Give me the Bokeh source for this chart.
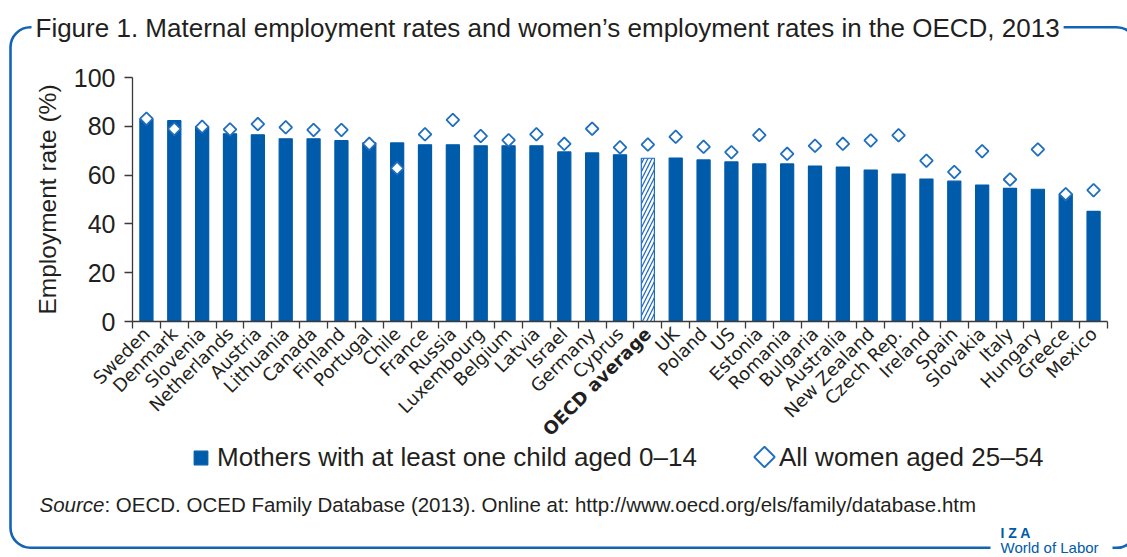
import math
from bokeh.plotting import figure
from bokeh.models import (Range1d, LinearAxis, FixedTicker, ColumnDataSource, Label,
                          BoxAnnotation, Legend, LegendItem)
from bokeh.embed import file_html
from bokeh.resources import INLINE

# ---------------- data ----------------
countries = ["Sweden", "Denmark", "Slovenia", "Netherlands", "Austria", "Lithuania", "Canada",
             "Finland", "Portugal", "Chile", "France", "Russia", "Luxembourg", "Belgium", "Latvia",
             "Israel", "Germany", "Cyprus", "OECD average", "UK", "Poland", "US", "Estonia",
             "Romania", "Bulgaria", "Australia", "New Zealand", "Czech Rep.", "Ireland", "Spain",
             "Slovakia", "Italy", "Hungary", "Greece", "Mexico"]
mothers = [83.0, 82.3, 79.8, 76.9, 76.5, 74.9, 74.9, 74.1, 73.2, 73.2, 72.4, 72.4, 72.0, 72.0,
           72.0, 69.5, 69.1, 68.3, 66.9, 67.0, 66.2, 65.4, 64.6, 64.6, 63.7, 63.3, 62.1, 60.4,
           58.4, 57.5, 55.9, 54.6, 54.2, 52.2, 45.1]
women = [83.1, 78.9, 79.8, 78.7, 80.9, 79.6, 78.5, 78.5, 72.8, 62.8, 76.7, 82.6, 76.0, 74.3,
         76.7, 72.8, 79.0, 71.4, 72.5, 75.7, 71.6, 69.4, 76.4, 68.7, 72.0, 72.8, 74.2, 76.3,
         65.9, 61.3, 69.8, 58.2, 70.5, 52.2, 53.8]
y_ticks = [0, 20, 40, 60, 80, 100]
highlight = "OECD average"

title_text = "Figure 1. Maternal employment rates and women\u2019s employment rates in the OECD, 2013"
y_label = "Employment rate (%)"
series_mothers = "Mothers with at least one child aged 0\u201314"
series_women = "All women aged 25\u201354"
source_lead = "Source"
source_rest = ": OECD. OCED Family Database (2013). Online at: http://www.oecd.org/els/family/database.htm"

# ---------------- styles ----------------
BLUE = "#005BAA"
DIAMOND = "#1F6EC0"
FRAME_BLUE = "#1464B4"
TEXT = "#231F20"
AXIS = "#3A3A3A"
FONT = "Liberation Sans"
TICKFONT = "DejaVu Sans"

W, H = 1127, 557
# plot-area placement inside the canvas (pixels)
PL, PR, PT, PB = 132, 1107, 77, 321
N = len(countries)
YMAX = y_ticks[-1]
ux = (PR - PL) / N        # pixels per category
uy = (PB - PT) / YMAX     # pixels per percentage point

xs = [i + 0.5 for i in range(N)]   # category centres on the numeric x scale

p = figure(width=W, height=H, output_backend="svg", toolbar_location=None, title=None,
           x_range=Range1d(-PL / ux, N + (W - PR) / ux),
           y_range=Range1d(-(H - PB) / uy, YMAX + PT / uy),
           x_axis_location=None, y_axis_location=None,
           min_border_left=0, min_border_right=0, min_border_top=0, min_border_bottom=0)
p.outline_line_color = None
p.background_fill_color = "white"
p.border_fill_color = "white"
p.grid.visible = False

# "px"/"py": canvas pixel ranges for the decorations
p.extra_x_ranges = {"px": Range1d(0, W)}
p.extra_y_ranges = {"py": Range1d(start=H, end=0)}

# rounded frame around the whole figure (drawn first, underneath everything)
p.quad(left=[10], right=[1136], top=[26.7], bottom=[547.3],
       x_range_name="px", y_range_name="py",
       fill_color=None, line_color=FRAME_BLUE, line_width=2.6, border_radius=20)

src = ColumnDataSource(dict(
    x=xs, country=countries, mothers=mothers, women=women,
    fill=["white" if c == highlight else BLUE for c in countries],
    hatch=["/" if c == highlight else " " for c in countries],
    line=[DIAMOND if c == highlight else BLUE for c in countries],
))

bars = p.vbar(x="x", top="mothers", width=0.47, source=src,
              fill_color="fill", line_color="line", line_width=1.2,
              hatch_pattern="hatch", hatch_color=DIAMOND, hatch_scale=8, hatch_weight=1.3)
dots = p.scatter(x="x", y="women", source=src, marker="square", angle=math.pi / 4,
                 size=9, fill_color="white", line_color=DIAMOND, line_width=1.8)

# y axis
ya = LinearAxis(ticker=FixedTicker(ticks=y_ticks), axis_label=y_label,
                fixed_location=0, bounds=(0, YMAX))
ya.axis_line_color = AXIS
ya.axis_line_width = 1.3
ya.major_tick_line_color = AXIS
ya.major_tick_line_width = 1.3
ya.major_tick_in = 0
ya.major_tick_out = 8
ya.minor_tick_line_color = None
ya.major_label_text_font = FONT
ya.major_label_text_font_size = "25px"
ya.major_label_text_color = TEXT
ya.major_label_standoff = 9
ya.axis_label_text_font = FONT
ya.axis_label_text_font_size = "24.5px"
ya.axis_label_text_font_style = "normal"
ya.axis_label_text_color = TEXT
ya.axis_label_standoff = 10
p.add_layout(ya, "left")

# x axis: names at category centres, small ticks at category boundaries
xa = LinearAxis(ticker=FixedTicker(ticks=xs, minor_ticks=list(range(N + 1))),
                fixed_location=0, bounds=(0, N))
xa.major_label_overrides = {x: ("" if c == highlight else c) for x, c in zip(xs, countries)}
xa.axis_line_color = AXIS
xa.axis_line_width = 1.3
xa.major_tick_line_color = None
xa.major_tick_in = 0
xa.major_tick_out = 7
xa.minor_tick_line_color = AXIS
xa.minor_tick_line_width = 1.3
xa.minor_tick_in = 0
xa.minor_tick_out = 7
xa.major_label_orientation = math.pi / 4
xa.major_label_text_font = TICKFONT
xa.major_label_text_font_size = "18px"
xa.major_label_text_color = TEXT
xa.major_label_standoff = 2
p.add_layout(xa, "below")

# bold label for the OECD average (same anchoring as the axis labels)
p.add_layout(Label(x=xs[countries.index(highlight)], y=-(7 + 2) / uy,
                   text=highlight, angle=math.pi / 4, text_align="right", text_baseline="middle",
                   text_font=TICKFONT, text_font_size="18px", text_font_style="bold",
                   text_color=TEXT))

# diamond key for the second legend entry (legend markers ignore the marker angle)
p.scatter(x=[764], y=[456.5], x_range_name="px", y_range_name="py",
          marker="square", angle=math.pi / 4, size=14.5,
          fill_color="white", line_color=DIAMOND, line_width=1.8)

# legends
leg1 = Legend(items=[LegendItem(label=series_mothers, renderers=[bars], index=0)],
              location=(192, 84), orientation="horizontal",
              glyph_width=17, glyph_height=17, label_standoff=8,
              label_text_font=FONT, label_text_font_size="26px", label_text_color=TEXT,
              padding=0, margin=0, spacing=0, border_line_color=None, background_fill_alpha=0)
leg2 = Legend(items=[LegendItem(label=series_women, renderers=[dots], index=0)],
              location=(753, 84), orientation="horizontal",
              glyph_width=0, glyph_height=22, label_standoff=26,
              label_text_font=FONT, label_text_font_size="26px", label_text_color=TEXT,
              padding=0, margin=0, spacing=0, border_line_color=None, background_fill_alpha=0)
p.add_layout(leg1, "center")
p.add_layout(leg2, "center")

# title, breaking the frame line
p.add_layout(Label(x=31, y=27, x_range_name="px", y_range_name="py", text=title_text,
                   text_font=FONT, text_font_size="26px", text_color=TEXT,
                   text_baseline="alphabetic", background_fill_color="white", padding=4))

# source line
p.add_layout(Label(x=39, y=503.5, x_range_name="px", y_range_name="py", text=source_lead,
                   text_font=FONT, text_font_size="20.5px", text_font_style="italic",
                   text_color=TEXT, text_baseline="alphabetic"))
p.add_layout(Label(x=39 + 3.168 * 20.5, y=503.5, x_range_name="px", y_range_name="py",
                   text=source_rest, text_font=FONT, text_font_size="20.5px",
                   text_color=TEXT, text_baseline="alphabetic"))

# IZA World of Labor logo
p.add_layout(BoxAnnotation(left=990, right=1112, top=540, bottom=557,
                           x_range_name="px", y_range_name="py",
                           fill_color="white", fill_alpha=1, line_color=None))
p.add_layout(Label(x=1000, y=532, x_range_name="px", y_range_name="py", text="I  Z  A",
                   text_font=FONT, text_font_size="14px", text_font_style="bold",
                   text_color=BLUE, text_baseline="alphabetic"))
p.add_layout(Label(x=1000, y=546.5, x_range_name="px", y_range_name="py", text="World of Labor",
                   text_font=FONT, text_font_size="15px",
                   text_color=BLUE, text_baseline="alphabetic"))

open("out.html", "w").write(file_html(p, INLINE))
